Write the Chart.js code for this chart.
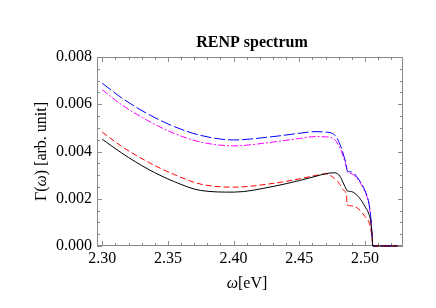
<!DOCTYPE html>
<html>
<head>
<meta charset="utf-8">
<script src="https://cdn.jsdelivr.net/npm/chart.js@4"></script>
<style>
  html, body { margin: 0; padding: 0; background: #fff; }
  #wrap { width: 436px; height: 308px; }
</style>
</head>
<body>
<div id="wrap"><canvas id="renp" width="436" height="308"></canvas></div>
<script>
// --- RENP spectrum data ---
const omega = [2.300, 2.315, 2.335, 2.355, 2.375, 2.400, 2.430, 2.450, 2.462, 2.470, 2.477, 2.481,
               2.4835, 2.4860, 2.4864, 2.490, 2.4955, 2.500, 2.503, 2.5045, 2.5055, 2.506, 2.525];

const gammaBlack   = [0.00452, 0.00393, 0.00325, 0.00272, 0.00235, 0.00228, 0.00252, 0.00277, 0.00294, 0.00306, 0.00310, 0.00295,
                      0.00267, 0.00238, 0.00234, 0.00230, 0.00206, 0.00168, 0.00135, 0.00100, 0.00040, 0, 0];
const gammaRed     = [0.00482, 0.00421, 0.00355, 0.00302, 0.00262, 0.00249, 0.00265, 0.00284, 0.00298, 0.00305, 0.00285, 0.00260,
                      0.00237, 0.00216, 0.00174, 0.00170, 0.00155, 0.00125, 0.00102, 0.00070, 0.00030, 0, 0];
const gammaBlue    = [0.00689, 0.00626, 0.00558, 0.00505, 0.00468, 0.00449, 0.00463, 0.00477, 0.00484, 0.00482, 0.00470, 0.00430,
                      0.00390, 0.00336, 0.00320, 0.00313, 0.00280, 0.00235, 0.00182, 0.00120, 0.00040, 0, 0];
const gammaMagenta = [0.00661, 0.00597, 0.00530, 0.00476, 0.00440, 0.00424, 0.00440, 0.00455, 0.00463, 0.00462, 0.00450, 0.00415,
                      0.00378, 0.00330, 0.00315, 0.00305, 0.00275, 0.00230, 0.00178, 0.00115, 0.00040, 0, 0];

const xMin = 2.296, xMax = 2.529;
const yMin = 0, yMax = 0.008;
const xMajor = [2.30, 2.35, 2.40, 2.45, 2.50];
const yMajor = [0.000, 0.002, 0.004, 0.006, 0.008];

const SERIF = '"Liberation Serif", "DejaVu Serif", serif';

function pts(ys) {
  return omega.map((x, i) => ({ x: x, y: ys[i] }));
}

function line(label, ys, color, dash) {
  return {
    label: label,
    data: pts(ys),
    showLine: true,
    borderColor: color,
    borderWidth: 1,
    borderDash: dash,
    pointRadius: 0,
    fill: false,
    clip: 2,
    cubicInterpolationMode: 'monotone'
  };
}

// frame with inward ticks on all four sides (Mathematica look)
const frameTicks = {
  id: 'frameTicks',
  beforeDatasetsDraw(chart) {
    const { ctx, chartArea: a, scales } = chart;
    const xs = scales.x, ys = scales.y;
    ctx.save();
    ctx.strokeStyle = '#8a8a8a';
    ctx.lineWidth = 1;
    ctx.strokeRect(a.left + 0.5, a.top + 0.5, a.right - a.left - 1, a.bottom - a.top - 1);
    ctx.beginPath();
    // x ticks every 0.01
    for (let k = 230; k <= 252; k++) {
      const v = k / 100;
      if (v < xMin || v > xMax) continue;
      const px = Math.round(xs.getPixelForValue(v)) + 0.5;
      const len = (k % 5 === 0) ? 5 : 3;
      ctx.moveTo(px, a.bottom); ctx.lineTo(px, a.bottom - len);
      ctx.moveTo(px, a.top); ctx.lineTo(px, a.top + len);
    }
    // y ticks every 0.0005
    for (let k = 0; k <= 16; k++) {
      const v = k * 0.0005;
      const py = Math.round(ys.getPixelForValue(v)) + 0.5;
      const len = (k % 4 === 0) ? 5 : 3;
      ctx.moveTo(a.left, py); ctx.lineTo(a.left + len, py);
      ctx.moveTo(a.right, py); ctx.lineTo(a.right - len, py);
    }
    ctx.stroke();
    ctx.restore();
  },
  afterDraw(chart) {
    const { ctx, chartArea: a } = chart;
    ctx.save();
    ctx.fillStyle = '#000';
    ctx.textBaseline = 'alphabetic';
    ctx.font = 'bold 16px ' + SERIF;
    ctx.textAlign = 'center';
    ctx.fillText('RENP spectrum', (a.left + a.right) / 2 + 2, 47);

    // x title: ω[eV]
    drawMixed(ctx, [['ω', 'italic 16px ' + SERIF], ['[eV]', '16px ' + SERIF]], 247, 288);

    // y title: Γ(ω) [arb. unit]
    ctx.save();
    ctx.translate(46, (a.top + a.bottom) / 2);
    ctx.rotate(-Math.PI / 2);
    drawMixed(ctx, [['Γ(', '16px ' + SERIF], ['ω', 'italic 16px ' + SERIF], [') [arb. unit]', '16px ' + SERIF]], 0, 0);
    ctx.restore();
    ctx.restore();
  }
};

function drawMixed(ctx, parts, cx, y) {
  let w = 0;
  parts.forEach(p => { ctx.font = p[1]; w += ctx.measureText(p[0]).width; });
  let x = cx - w / 2;
  ctx.textAlign = 'left';
  parts.forEach(p => {
    ctx.font = p[1];
    ctx.fillText(p[0], x, y);
    x += ctx.measureText(p[0]).width;
  });
}

new Chart(document.getElementById('renp'), {
  type: 'scatter',
  data: {
    datasets: [
      line('black', gammaBlack, '#000000', []),
      line('red', gammaRed, '#ff0000', [6, 3]),
      line('blue', gammaBlue, '#0000ff', [11, 3]),
      line('magenta', gammaMagenta, '#ff00ff', [7, 2, 2, 2])
    ]
  },
  options: {
    responsive: false,
    animation: false,
    layout: { padding: { top: 57, right: 33, left: 0, bottom: 0 } },
    plugins: { legend: { display: false }, tooltip: { enabled: false } },
    scales: {
      x: {
        type: 'linear',
        min: xMin, max: xMax,
        afterFit: s => { s.height = 62; },
        afterBuildTicks: s => { s.ticks = xMajor.map(v => ({ value: v })); },
        grid: { display: false, drawTicks: false },
        border: { display: false },
        ticks: {
          color: '#000', padding: 3, maxRotation: 0,
          font: { family: SERIF, size: 16 },
          callback: v => v.toFixed(2)
        }
      },
      y: {
        type: 'linear',
        min: yMin, max: yMax,
        afterFit: s => { s.width = 97; },
        afterBuildTicks: s => { s.ticks = yMajor.map(v => ({ value: v })); },
        grid: { display: false, drawTicks: false },
        border: { display: false },
        ticks: {
          color: '#000', padding: 5,
          font: { family: SERIF, size: 16 },
          callback: v => v.toFixed(3)
        }
      }
    }
  },
  plugins: [frameTicks]
});
</script>
</body>
</html>
